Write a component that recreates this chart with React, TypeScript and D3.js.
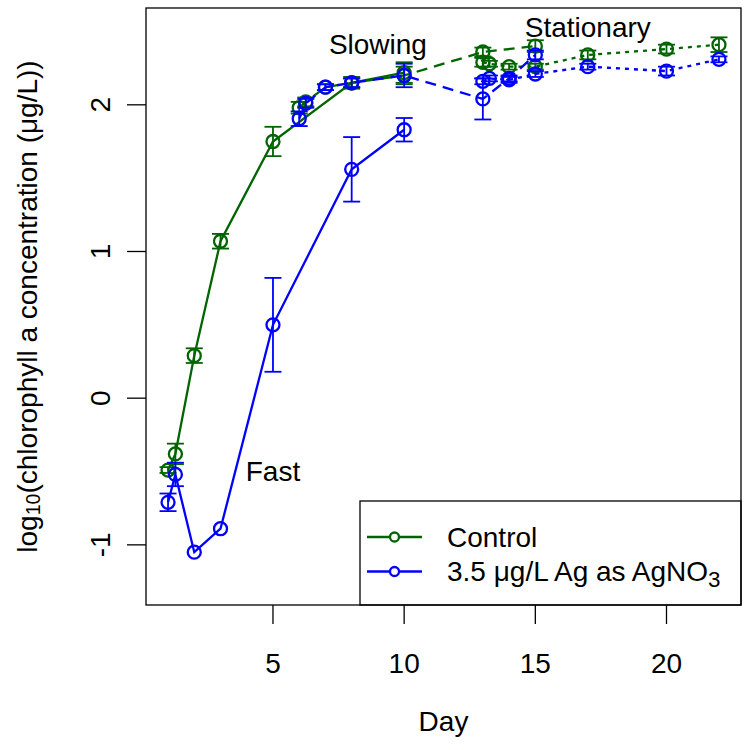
import React from "react";
import * as d3 from "d3";

// ---- data ----
const fastDays = [1, 1.28, 2, 3, 5, 8, 10];
const fastControl = [-0.49, -0.38, 0.29, 1.07, 1.75, 2.15, 2.22];
const fastControlErr = [0.02, 0.07, 0.05, 0.05, 0.1, 0.04, 0.07];
const fastAg = [-0.71, -0.52, -1.05, -0.89, 0.5, 1.56, 1.83];
const fastAgErr = [0.06, 0.08, 0, 0, 0.32, 0.22, 0.08];

const slowControlDays = [6, 6.25, 7, 8, 10, 13, 15];
const slowControl = [1.98, 2.02, 2.12, 2.15, 2.2, 2.36, 2.4];
const slowControlErr = [0.04, 0.03, 0.02, 0.03, 0.06, 0.03, 0.04];
const slowAgDays = [6, 6.25, 7, 8, 10, 13, 14, 15];
const slowAg = [1.905, 2.01, 2.12, 2.15, 2.2, 2.04, 2.18, 2.34];
const slowAgErr = [0.05, 0.03, 0.02, 0.03, 0.08, 0.14, 0.02, 0.03];

const statDays = [13, 13.25, 14, 15, 17, 20, 22];
const statControl = [2.29, 2.28, 2.26, 2.26, 2.34, 2.38, 2.41];
const statControlErr = [0.03, 0.02, 0.02, 0.02, 0.03, 0.03, 0.05];
const statAg = [2.16, 2.18, 2.17, 2.21, 2.26, 2.23, 2.31];
const statAgErr = [0.02, 0.02, 0.02, 0.02, 0.02, 0.03, 0.02];

const xTicks = [5, 10, 15, 20];
const yTicks = [-1, 0, 1, 2];
const legendLabels = ["Control", "3.5 μg/L Ag as AgNO"];
const phaseLabels = [
  { text: "Fast", day: 5, value: -0.5 },
  { text: "Slowing", day: 9, value: 2.41 },
  { text: "Stationary", day: 17, value: 2.53 },
];

const GREEN = "#006400";
const BLUE = "#0000FF";
const FONT = "'Liberation Sans', Arial, Helvetica, sans-serif";
const FS = 28;

const L = 146, R = 741, T = 8, B = 605;
const x = d3.scaleLinear().domain([0.16, 22.84]).range([L, R]);
const y = d3.scaleLinear().domain([-1.41, 2.66]).range([B, T]);

type S = { days: number[]; vals: number[]; errs: number[]; color: string; dash?: string };

const series: S[] = [
  { days: fastDays, vals: fastControl, errs: fastControlErr, color: GREEN },
  { days: slowControlDays, vals: slowControl, errs: slowControlErr, color: GREEN, dash: "11,7" },
  { days: statDays, vals: statControl, errs: statControlErr, color: GREEN, dash: "4,5" },
  { days: fastDays, vals: fastAg, errs: fastAgErr, color: BLUE },
  { days: slowAgDays, vals: slowAg, errs: slowAgErr, color: BLUE, dash: "11,7" },
  { days: statDays, vals: statAg, errs: statAgErr, color: BLUE, dash: "4,5" },
];

const line = d3
  .line<[number, number]>()
  .x((d) => x(d[0]))
  .y((d) => y(d[1]));

export default function App() {
  const cap = 8.5;
  const r = 6.5;
  return (
    <svg
      width={751}
      height={750}
      style={{ position: "absolute", left: 0, top: 0, background: "#fff" }}
      fontFamily={FONT}
    >
      <rect x={0} y={0} width={751} height={750} fill="#fff" />
      {series.map((s, i) => {
        const pts = s.days.map((d, j) => [d, s.vals[j]] as [number, number]);
        return (
          <g key={i}>
            <path
              d={line(pts) || ""}
              fill="none"
              stroke={s.color}
              strokeWidth={2.3}
              strokeDasharray={s.dash}
            />
            {pts.map((p, j) => {
              const e = s.errs[j];
              const cx = x(p[0]);
              if (e <= 0) return null;
              const y1 = y(p[1] + e);
              const y2 = y(p[1] - e);
              return (
                <g key={"e" + j} stroke={s.color} strokeWidth={1.8}>
                  <line x1={cx} x2={cx} y1={y1} y2={y2} />
                  <line x1={cx - cap} x2={cx + cap} y1={y1} y2={y1} />
                  <line x1={cx - cap} x2={cx + cap} y1={y2} y2={y2} />
                </g>
              );
            })}
            {pts.map((p, j) => (
              <circle
                key={"c" + j}
                cx={x(p[0])}
                cy={y(p[1])}
                r={r}
                fill="none"
                stroke={s.color}
                strokeWidth={2.3}
              />
            ))}
          </g>
        );
      })}

      {phaseLabels.map((t) => (
        <text
          key={t.text}
          x={x(t.day)}
          y={y(t.value)}
          fontSize={FS}
          textAnchor="middle"
          dominantBaseline="central"
          fill="#000"
        >
          {t.text}
        </text>
      ))}

      {/* legend */}
      <g>
        <rect x={360} y={501} width={R - 360} height={B - 501} fill="#fff" stroke="#000" strokeWidth={1.3} />
        {[GREEN, BLUE].map((c, i) => {
          const ly = 537 + i * 34.5;
          return (
            <g key={i}>
              <line x1={367} x2={422} y1={ly} y2={ly} stroke={c} strokeWidth={2.3} />
              <circle cx={394.5} cy={ly} r={4.5} fill="#fff" stroke={c} strokeWidth={2.3} />
              <text x={447} y={ly} fontSize={FS} dominantBaseline="central" fill="#000">
                {legendLabels[i]}
                {i === 1 ? (
                  <tspan fontSize={FS * 0.8} dy={7}>
                    3
                  </tspan>
                ) : null}
              </text>
            </g>
          );
        })}
      </g>

      {/* box */}
      <rect x={L} y={T} width={R - L} height={B - T} fill="none" stroke="#000" strokeWidth={1.3} />

      {/* x axis */}
      {xTicks.map((t) => (
        <g key={t}>
          <line x1={x(t)} x2={x(t)} y1={B} y2={B + 19} stroke="#000" strokeWidth={1.3} />
          <text x={x(t)} y={663} fontSize={FS} textAnchor="middle" dominantBaseline="central">
            {t}
          </text>
        </g>
      ))}
      <text x={(L + R) / 2} y={721} fontSize={FS} textAnchor="middle" dominantBaseline="central">
        Day
      </text>

      {/* y axis */}
      {yTicks.map((t) => (
        <g key={t}>
          <line x1={L} x2={L - 19} y1={y(t)} y2={y(t)} stroke="#000" strokeWidth={1.3} />
          <text
            transform={`translate(100,${y(t)}) rotate(-90)`}
            fontSize={FS}
            textAnchor="middle"
            dominantBaseline="central"
          >
            {t}
          </text>
        </g>
      ))}
      <text
        transform={`translate(27,${(T + B) / 2}) rotate(-90)`}
        fontSize={FS}
        textAnchor="middle"
        dominantBaseline="central"
      >
        log
        <tspan fontSize={FS * 0.7} dy={6}>
          10
        </tspan>
        <tspan dy={-6}>(chlorophyll a concentration (μg/L))</tspan>
      </text>
    </svg>
  );
}
